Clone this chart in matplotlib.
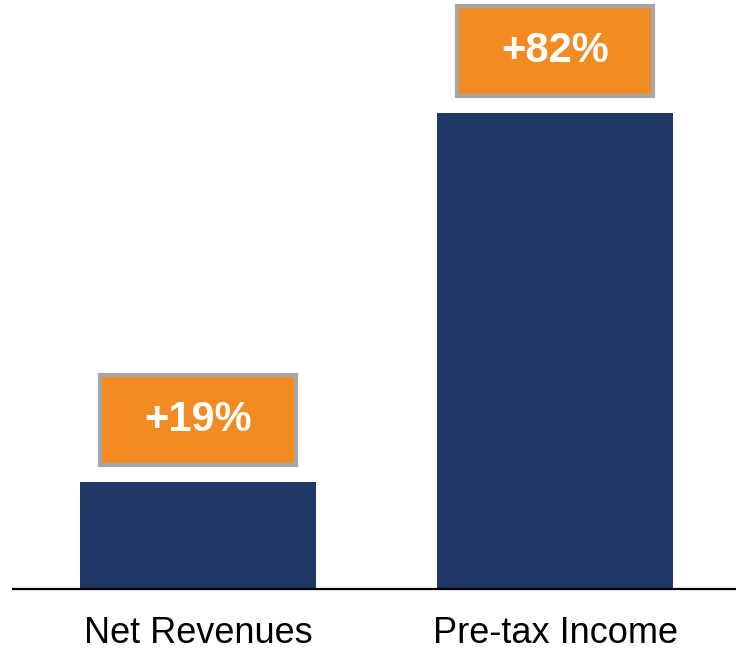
import matplotlib
matplotlib.use("Agg")
import matplotlib.pyplot as plt
from matplotlib.patches import Rectangle

categories = ["Net Revenues", "Pre-tax Income"]
bar_heights = [18.4, 82.0]
growth_labels = ["+19%", "+82%"]

BAR_COLOR = "#1F3868"
BOX_COLOR = "#F28C22"
BOX_EDGE = "#A6A6A6"

fig = plt.figure(figsize=(7.36, 6.51), dpi=100)
ax = fig.add_axes([13/736, 1 - 589/651, 723/736, 589/651])

x = list(range(len(categories)))
ax.bar(x, bar_heights, width=0.66, color=BAR_COLOR, zorder=2)

ax.set_xlim(-0.517, 1.505)
ax.set_ylim(0, 101.5)

box_w = 0.548
box_h = 15.5
gap = 3.0
for xi, h, lab in zip(x, bar_heights, growth_labels):
    rect = Rectangle((xi - box_w/2, h + gap), box_w, box_h, facecolor=BOX_COLOR,
                     edgecolor=BOX_EDGE, linewidth=3, zorder=3, clip_on=False)
    ax.add_patch(rect)
    ax.text(xi, h + gap + box_h/2, lab, ha="center", va="center", color="white",
            fontsize=30, fontweight="bold", family="Liberation Sans", zorder=4)

for s in ["top", "left", "right"]:
    ax.spines[s].set_visible(False)
ax.spines["bottom"].set_linewidth(1.6)
ax.spines["bottom"].set_color("black")
ax.set_yticks([])
ax.set_xticks(x)
ax.set_xticklabels(categories, fontsize=26, family="Liberation Sans")
ax.tick_params(axis="x", length=0, pad=19.5)

fig.savefig("out.png", dpi=100)
